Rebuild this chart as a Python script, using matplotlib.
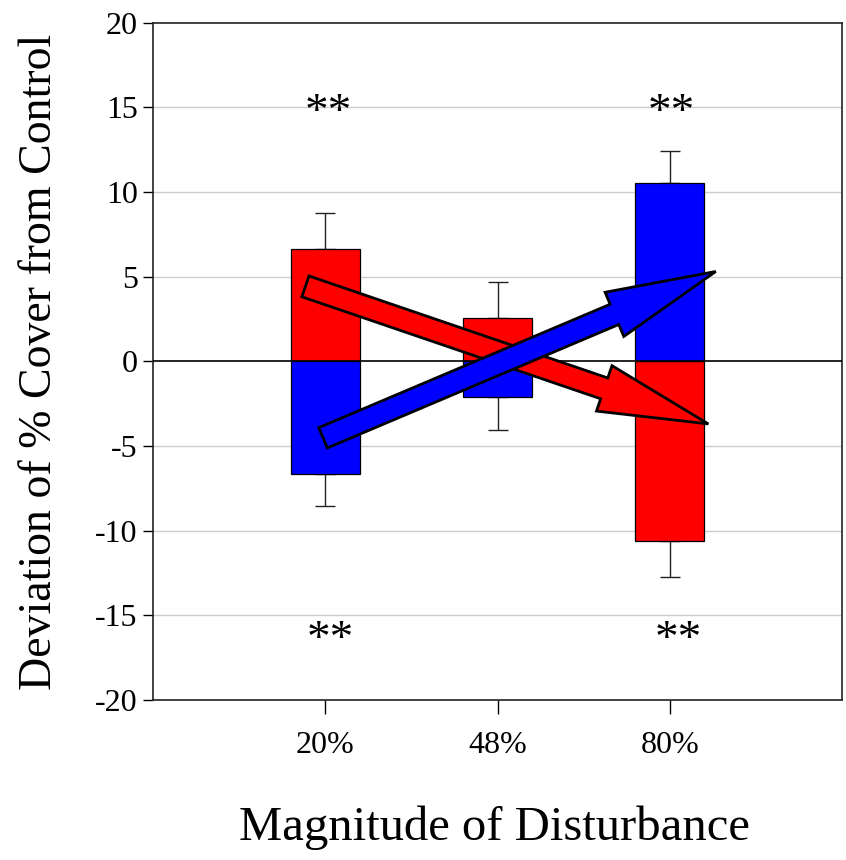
import matplotlib
matplotlib.use("Agg")
import matplotlib.pyplot as plt
from matplotlib.patches import Polygon
import numpy as np

# ---- data ----
categories = ["20%", "48%", "80%"]
red_values = [6.65, 2.57, -10.62]
blue_values = [-6.65, -2.10, 10.52]
red_err = [2.10, 2.10, 2.10]
blue_err = [1.88, 1.94, 1.92]
yticks = [-20, -15, -10, -5, 0, 5, 10, 15, 20]
sig_labels = ["**", "**", "**", "**"]
sig_x = [1.02, 3.01, 1.03, 3.05]
sig_y = [14.6, 14.6, -16.5, -16.5]
# trend arrows: (tail x, tail y, tip x, tip y)
red_arrow = (0.885, 4.42, 3.224, -3.70)
blue_arrow = (0.987, -4.52, 3.267, 5.30)

plt.rcParams['font.family'] = ['Liberation Serif', 'DejaVu Serif']

fig = plt.figure(figsize=(8.46, 8.60), dpi=100)
ax = fig.add_axes([153/846, (860-700)/860, 689/846, 677.5/860])

x = np.arange(1, len(categories) + 1)
bw = 0.40

ax.set_xlim(0, 4)
ax.set_ylim(-20, 20)

for yy in yticks:
    if yy not in (-20, 0, 20):
        ax.axhline(yy, color="#cccccc", lw=1.0, zorder=0)

ax.bar(x, red_values, width=bw, color="#ff0000", edgecolor="black", linewidth=0.9, zorder=2)
ax.bar(x, blue_values, width=bw, color="#0000ff", edgecolor="black", linewidth=0.9, zorder=2)

ax.axhline(0, color="black", lw=1.2, zorder=3)

# one-sided error bars (away from zero)
for xi, rv, bv, re, be in zip(x, red_values, blue_values, red_err, blue_err):
    for v, e in ((rv, re), (bv, be)):
        if v >= 0:
            yerr = [[0], [e]]
        else:
            yerr = [[e], [0]]
        ax.errorbar([xi], [v], yerr=yerr, fmt="none", ecolor="#222222",
                    elinewidth=1.0, capsize=7, capthick=1.0, zorder=1.5)

# arrows built in pixel space
fig.canvas.draw()
trans = ax.transData
inv = trans.inverted()

def arrow_poly(spec, shaft_w=22, head_w=48, head_l=110):
    t = trans.transform((spec[0], spec[1]))
    h = trans.transform((spec[2], spec[3]))
    d = h - t
    L = np.hypot(*d)
    u = d / L
    n = np.array([-u[1], u[0]])
    neck = t + u * (L - head_l)
    pts = [t + n * shaft_w / 2, neck + n * shaft_w / 2, neck + n * head_w / 2, h,
           neck - n * head_w / 2, neck - n * shaft_w / 2, t - n * shaft_w / 2]
    return inv.transform(np.array(pts))

ax.add_patch(Polygon(arrow_poly(red_arrow), closed=True, facecolor="#ff0000",
                     edgecolor="black", lw=2.0, joinstyle="miter", zorder=5))
ax.add_patch(Polygon(arrow_poly(blue_arrow), closed=True, facecolor="#0000ff",
                     edgecolor="black", lw=2.0, joinstyle="miter", zorder=6))

for sx, sy, s in zip(sig_x, sig_y, sig_labels):
    ax.text(sx, sy, s, ha="center", va="center", fontsize=34, zorder=7)

ax.set_xticks(x)
ax.set_xticklabels(categories, fontsize=23)
ax.set_yticks(yticks)
ax.set_yticklabels([str(v) for v in yticks], fontsize=23)
ax.tick_params(axis="x", direction="out", length=10, width=1, pad=12)
ax.tick_params(axis="y", direction="out", length=7, width=1, pad=4)

for sp in ax.spines.values():
    sp.set_linewidth(1.2)
    sp.set_color("#222222")

fig.text(40/846, 1 - 362/860, "Deviation of % Cover from Control", rotation=90,
         ha="center", va="center", fontsize=33)
fig.text(494/846, 1 - 828/860, "Magnitude of Disturbance", ha="center",
         va="center", fontsize=35)

fig.savefig("out.png", dpi=100)
